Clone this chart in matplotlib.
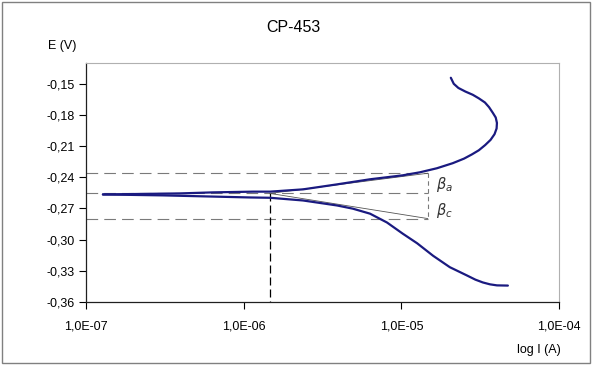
import matplotlib
matplotlib.use("Agg")
import matplotlib.pyplot as plt
from matplotlib.patches import Rectangle
from matplotlib.ticker import FuncFormatter, FixedLocator

plt.rcParams['font.family'] = ['Liberation Sans', 'DejaVu Sans']

# anodic branch (from E corr up to the top)
i_anodic = [1.28e-7, 3.94e-7, 6.38e-7, 1.15e-6, 1.47e-6, 2.38e-6, 3.91e-6, 6.33e-6,
            1.02e-5, 1.31e-5, 1.68e-5, 2.12e-5, 2.50e-5, 2.80e-5, 3.10e-5, 3.40e-5,
            3.68e-5, 3.90e-5, 4.02e-5, 4.04e-5, 3.97e-5, 3.81e-5, 3.60e-5, 3.39e-5,
            3.10e-5, 2.84e-5, 2.55e-5, 2.30e-5, 2.15e-5, 2.06e-5]
e_anodic = [-0.2565, -0.2555, -0.2545, -0.2538, -0.2538, -0.2516, -0.2468, -0.2419,
            -0.2381, -0.2352, -0.2313, -0.2264, -0.2220, -0.2180, -0.2140, -0.2090,
            -0.2040, -0.1985, -0.1930, -0.1877, -0.1825, -0.1781, -0.1725, -0.1680,
            -0.1640, -0.1606, -0.1575, -0.1540, -0.1500, -0.1442]

# cathodic branch
i_cathodic = [1.28e-7, 3.08e-7, 1.10e-6, 1.47e-6, 2.38e-6, 3.91e-6, 4.93e-6, 6.33e-6,
              8.11e-6, 1.02e-5, 1.26e-5, 1.59e-5, 2.03e-5, 2.61e-5, 2.95e-5, 3.29e-5,
              3.65e-5, 4.04e-5, 4.74e-5]
e_cathodic = [-0.2565, -0.2574, -0.2594, -0.2597, -0.2623, -0.2671, -0.2702, -0.2750,
              -0.2835, -0.2942, -0.3035, -0.3155, -0.3265, -0.3345, -0.3385, -0.3412,
              -0.3430, -0.3440, -0.3442]

# Tafel construction
i_corr = 1.47e-6
i_decade = 1.47e-5
e_corr = -0.2555
e_a = -0.2361
e_c = -0.2797

x_ticks = [1e-7, 1e-6, 1e-5, 1e-4]
y_ticks = [-0.36, -0.33, -0.30, -0.27, -0.24, -0.21, -0.18, -0.15]

fig = plt.figure(figsize=(5.92, 3.65), dpi=100)
fig.patches.append(Rectangle((2 / 592, 2 / 365), 588 / 592, 361 / 365,
                             transform=fig.transFigure, fill=False,
                             edgecolor='#808080', lw=1.0))

ax = fig.add_axes([86 / 592, 63 / 365, 473 / 592, 239 / 365])
ax.set_xscale('log')
ax.set_xlim(1e-7, 1e-4)
ax.set_ylim(-0.36, -0.13)

gray = '#7a7a7a'
# dashed guide lines
for e in (e_a, e_corr, e_c):
    ax.plot([1e-7, i_decade], [e, e], color=gray, lw=0.8, dashes=(10.5, 5.5))
ax.plot([i_decade, i_decade], [e_a, e_c], color=gray, lw=0.8, dashes=(4, 3))
ax.plot([i_corr, i_corr], [e_corr, -0.36], color='black', lw=0.9, dashes=(6.4, 3.2))

# Tafel lines
ax.plot([i_corr, i_decade], [e_corr, e_a], color='#555555', lw=0.6)
ax.plot([i_corr, i_decade], [e_corr, e_c], color='#555555', lw=0.6)

# polarization curve
ax.plot(i_anodic, e_anodic, color='#1a1a80', lw=1.6, solid_capstyle='round',
        solid_joinstyle='round')
ax.plot(i_cathodic, e_cathodic, color='#1a1a80', lw=1.6, solid_capstyle='round',
        solid_joinstyle='round')

ax.text(1.65e-5, -0.2468, r'$\beta_a$', fontsize=10.5, color='#333333', va='center')
ax.text(1.65e-5, -0.2722, r'$\beta_c$', fontsize=10.5, color='#333333', va='center')

ax.xaxis.set_major_locator(FixedLocator(x_ticks))
ax.xaxis.set_minor_locator(FixedLocator([]))
ax.yaxis.set_major_locator(FixedLocator(y_ticks))
ax.xaxis.set_major_formatter(FuncFormatter(lambda v, p: ('%.1E' % v).replace('.', ',')))
ax.yaxis.set_major_formatter(FuncFormatter(lambda v, p: ('%.2f' % v).replace('.', ',')))
ax.tick_params(axis='both', direction='out', length=5, width=0.8, labelsize=9,
               colors='black', pad=3)
ax.tick_params(axis='x', pad=8)

for s in ('top', 'right'):
    ax.spines[s].set_color('#b0b0b0')
    ax.spines[s].set_linewidth(0.8)
for s in ('left', 'bottom'):
    ax.spines[s].set_color('#202020')
    ax.spines[s].set_linewidth(0.9)

fig.text(293 / 592, 1 - 28 / 365, 'CP-453', ha='center', va='center', fontsize=11.5)
fig.text(62 / 592, 1 - 46 / 365, 'E (V)', ha='center', va='center', fontsize=9)
fig.text(539 / 592, 1 - 350 / 365, 'log I (A)', ha='center', va='center', fontsize=9)

fig.savefig('out.png', dpi=100)
